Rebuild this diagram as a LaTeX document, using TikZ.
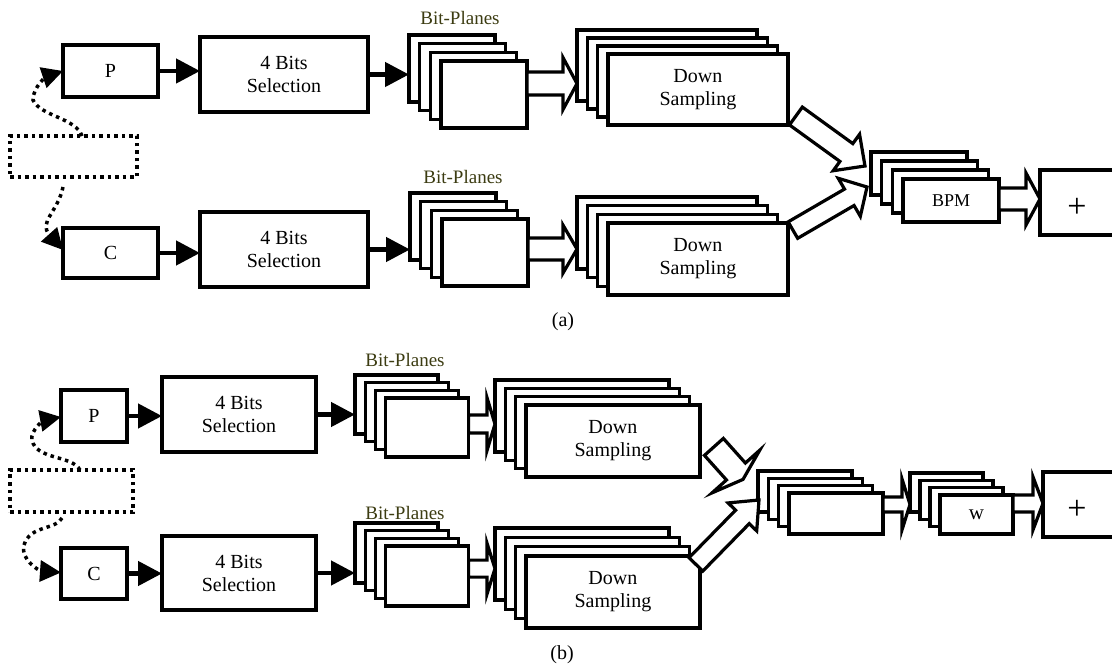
\documentclass[tikz,border=0pt]{standalone}
\usepackage{fontspec}
\setmainfont{Liberation Serif}
\usetikzlibrary{arrows.meta,calc}
\definecolor{bpcol}{RGB}{60,60,18}
% hollow block arrow from #1 (tail centre) to #2 (tip)
% #3 body half width, #4 head half width, #5 head length
\newcommand\fatarrow[5]{%
  \path ($(#2)!#5!(#1)$) coordinate (fah);
  \draw[fat] ($(#1)!#3!90:(#2)$) -- ($(fah)!#3!90:(#2)$) -- ($(fah)!#4!90:(#2)$)
    -- (#2) -- ($(fah)!#4!-90:(#2)$) -- ($(fah)!#3!-90:(#2)$) -- ($(#1)!#3!-90:(#2)$) -- cycle;
}
% stack of four layers: name, x, y, width, height, dx, dy, text
\newcommand\layerstack[8]{%
  \foreach \i in {1,2,3}
    \node[box, minimum width=#4pt, minimum height=#5pt] (#1\i) at ({#2+(\i-1)*#6},{#3+(\i-1)*#7}) {};
  \node[box, minimum width=#4pt, minimum height=#5pt] (#14) at ({#2+3*#6},{#3+3*#7}) {#8};
}
\begin{document}
\begin{tikzpicture}[x=1pt,y=-1pt,
  box/.style={draw, line width=3.4pt, fill=white, inner sep=0pt, outer sep=0pt,
    anchor=north west, align=center, font=\fontsize{20}{23}\selectfont},
  dotbox/.style={draw, line width=3.5pt, dash pattern=on 3.5pt off 4pt, anchor=north west,
    inner sep=0pt, outer sep=0pt},
  link/.style={line width=4.5pt, -{Triangle[length=24pt,width=24pt]}},
  dotlink/.style={line width=3.5pt, dash pattern=on 3.5pt off 4pt, -{Triangle[length=21pt,width=21pt]}},
  fat/.style={draw, line width=3.2pt, fill=white, line join=miter},
  bplabel/.style={text=bpcol, font=\fontsize{19}{22}\selectfont},
  caption/.style={font=\fontsize{20}{23}\selectfont},
  plussign/.style={font=\fontsize{34}{34}\selectfont, inner sep=0pt}]
\useasboundingbox (0,0) rectangle (1112,668);
\clip (0,0) rectangle (1112,668);

% ================= (a) =================
\node[box, minimum width=95pt, minimum height=52pt] (Pa) at (63,45) {P};
\node[box, minimum width=168pt, minimum height=75pt] (SelA1) at (200,37) {4 Bits\\Selection};
\node[dotbox, minimum width=127pt, minimum height=41pt] (Da) at (10,136) {};
\node[box, minimum width=95pt, minimum height=50pt] (Ca) at (63,228) {C};
\node[box, minimum width=168pt, minimum height=75pt] (SelA2) at (200,212) {4 Bits\\Selection};

\layerstack{bpa}{409}{35}{86}{67}{10.7}{8.7}{}
\layerstack{bpb}{410}{193}{86}{67}{10.7}{8.7}{}
\layerstack{dsa}{577}{30}{180}{71}{10.3}{8}{Down\\Sampling}
\layerstack{dsb}{577}{197}{180}{72}{10.3}{8.7}{Down\\Sampling}
\layerstack{bpm}{871}{152}{96}{43}{10.7}{9}{\fontsize{18}{20}\selectfont BPM}
\node[box, minimum width=80pt, minimum height=65pt] (plusA) at (1040,170) {};
\node[plussign] (plusAt) at ([xshift=-3pt,yshift=-5.5pt]plusA.center) {+};

\node[bplabel] (bplA1) at ($(bpa1.north)+(8,-17)$) {Bit-Planes};
\node[bplabel] (bplA2) at ($(bpb1.north)+(10,-16)$) {Bit-Planes};

\draw[link] (Pa.east) -- (Pa.east -| SelA1.west);
\draw[link] (SelA1.east) -- (SelA1.east -| bpa1.west);
\draw[link] (Ca.east) -- (Ca.east -| SelA2.west);
\draw[link] (SelA2.east) -- (SelA2.east -| bpb1.west);

\draw[dotlink] ($(Da.north west)+(72,0)$) .. controls (76,118) and (40,116) .. (33,100)
  .. controls (33,86) and (48,76) .. (Pa.west);
\draw[dotlink] ($(Da.south west)+(53,10)$) .. controls (58,212) and (38,222) .. ($(Ca.west)+(0,-3)$);

\coordinate (fa1s) at ([yshift=11pt]bpa4.east);
\coordinate (fa1e) at (fa1s -| dsa1.west);
\fatarrow{fa1s}{fa1e}{11.5pt}{26pt}{14pt}
\coordinate (fa2s) at ([yshift=3.5pt]bpb4.east);
\coordinate (fa2e) at (fa2s -| dsb1.west);
\fatarrow{fa2s}{fa2e}{11pt}{24pt}{14pt}
\coordinate (fa3s) at ($(dsa4.south east)+(8,-9)$);
\coordinate (fa3e) at ($(bpm1.north west)+(-6,14)$);
\fatarrow{fa3s}{fa3e}{11pt}{22.5pt}{23pt}
\coordinate (fa4s) at ($(dsb4.north east)+(5,7)$);
\coordinate (fa4e) at ($(bpm1.south west)+(-4,-8)$);
\fatarrow{fa4s}{fa4e}{9.5pt}{22pt}{20.5pt}
\coordinate (fa5s) at ([yshift=1.5pt]bpm4.east);
\coordinate (fa5e) at (fa5s -| plusA.west);
\fatarrow{fa5s}{fa5e}{11pt}{26pt}{14pt}

\node[caption] (capA) at (563,322) {(a)};

% ================= (b) =================
\node[box, minimum width=66pt, minimum height=52pt] (Pb) at (61,390) {P};
\node[box, minimum width=154pt, minimum height=75pt] (SelB1) at (162,377) {4 Bits\\Selection};
\node[dotbox, minimum width=123pt, minimum height=42pt] (Db) at (10,470) {};
\node[box, minimum width=66pt, minimum height=51pt] (Cb) at (61,548) {C};
\node[box, minimum width=154pt, minimum height=74pt] (SelB2) at (162,536) {4 Bits\\Selection};

\layerstack{bpc}{355}{375}{83}{59}{10.2}{7.7}{}
\layerstack{bpd}{355}{523}{83}{60}{10.2}{7.7}{}
\layerstack{dsc}{495}{380}{174}{72}{10.3}{8.3}{Down\\Sampling}
\layerstack{dsd}{495}{528}{174}{72}{10.3}{9.3}{Down\\Sampling}
\layerstack{mrg}{758}{471}{94}{41}{10.3}{7.3}{}
\layerstack{wst}{910}{473}{73}{39}{10}{7.3}{\fontsize{21}{23}\selectfont w}
\node[box, minimum width=80pt, minimum height=65pt] (plusB) at (1043,472) {};
\node[plussign] (plusBt) at ([xshift=-6pt,yshift=-5.5pt]plusB.center) {+};

\node[bplabel] (bplB1) at ($(bpc1.north)+(8.5,-15)$) {Bit-Planes};
\node[bplabel] (bplB2) at ($(bpd1.north)+(8.5,-10)$) {Bit-Planes};

\draw[link] (Pb.east) -- (Pb.east -| SelB1.west);
\draw[link] (SelB1.east) -- (SelB1.east -| bpc1.west);
\draw[link] (Cb.east) -- (Cb.east -| SelB2.west);
\draw[link] (SelB2.east) -- (SelB2.east -| bpd1.west);

\draw[dotlink] ($(Db.north west)+(70,0)$) .. controls (72,455) and (36,460) .. (32,440)
  .. controls (30,430) and (45,420) .. ($(Pb.west)+(0,1)$);
\draw[dotlink] ($(Db.south west)+(52,6)$) .. controls (56,530) and (30,525) .. (24,545)
  .. controls (20,560) and (40,571) .. ($(Cb.west)+(0,-1)$);

\coordinate (fb1s) at ([yshift=3.5pt]bpc4.east);
\coordinate (fb1e) at (fb1s -| dsc1.west);
\fatarrow{fb1s}{fb1e}{9pt}{26.5pt}{8pt}
\coordinate (fb2s) at ([yshift=7.5pt]bpd4.east);
\coordinate (fb2e) at (fb2s -| dsd1.west);
\fatarrow{fb2s}{fb2e}{8.5pt}{25.5pt}{8pt}
\coordinate (fb3s) at ($(dsc4.east)+(14,6)$);
\coordinate (fb3e) at ($(mrg1.north west)+(-15,8.4)$);
\fatarrow{fb3s}{fb3e}{12.7pt}{32pt}{10.6pt}
\coordinate (fb4s) at ($(dsd4.north east)+(-4,8.5)$);
\coordinate (fb4e) at ($(mrg1.west)+(1,8.5)$);
\fatarrow{fb4s}{fb4e}{9.6pt}{20pt}{23.7pt}
\coordinate (fb5s) at ([yshift=9pt]mrg4.east);
\coordinate (fb5e) at (fb5s -| wst1.west);
\fatarrow{fb5s}{fb5e}{7.5pt}{25.5pt}{8pt}
\coordinate (fb6s) at ([yshift=11pt]wst4.east);
\coordinate (fb6e) at (fb6s -| plusB.west);
\fatarrow{fb6s}{fb6e}{8.5pt}{26.5pt}{10pt}

\node[caption] (capB) at (562,655) {(b)};
\end{tikzpicture}
\end{document}
